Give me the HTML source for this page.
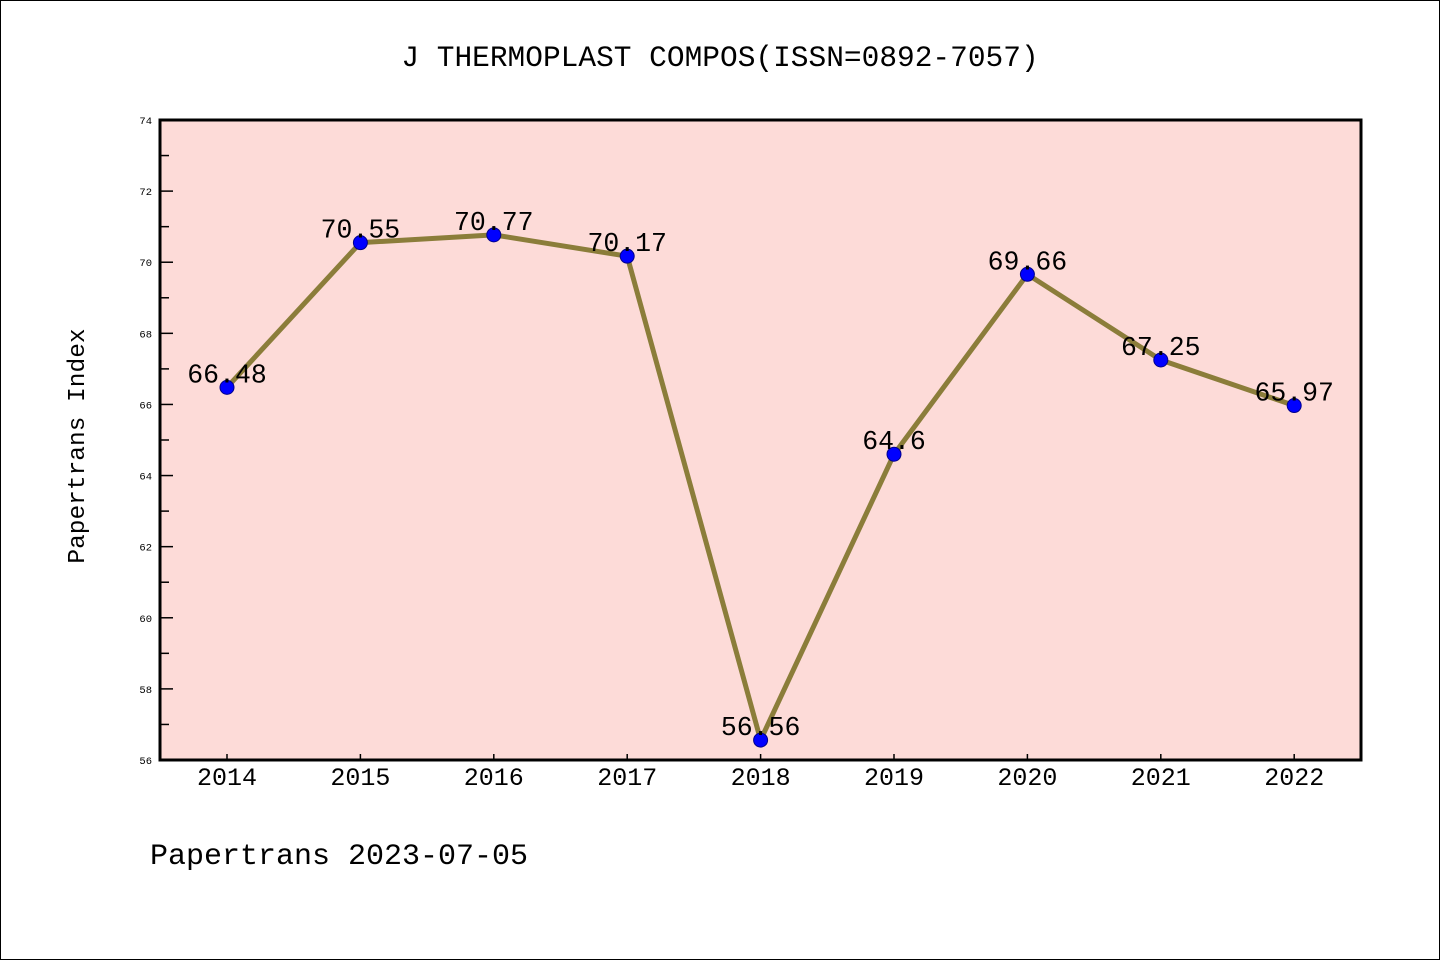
<!DOCTYPE html>
<html><head><meta charset="utf-8"><style>
body{margin:0;background:#fff}
svg{display:block}
text{font-family:"Liberation Mono","DejaVu Sans Mono",monospace}
</style></head><body>
<svg id="chart" width="1440" height="960" xmlns="http://www.w3.org/2000/svg">
<rect x="0.5" y="0.5" width="1439" height="959" fill="#fff" stroke="#000" stroke-width="1"/>
<text x="720" y="66" text-anchor="middle" font-size="29.5" fill="#000">J THERMOPLAST COMPOS(ISSN=0892-7057)</text>
<rect x="160" y="120" width="1201" height="640" fill="#fddbd8"/>
<g id="axes"></g>
<g id="series"></g>
<rect x="160" y="120" width="1201" height="640" fill="none" stroke="#000" stroke-width="3"/>
<text transform="translate(84,446) rotate(-90)" text-anchor="middle" font-size="24.5" fill="#000">Papertrans Index</text>
<text x="150" y="864" font-size="30" fill="#000">Papertrans 2023-07-05</text>
</svg>
<script>
const years=["2014","2015","2016","2017","2018","2019","2020","2021","2022"];
const values=[66.48,70.55,70.77,70.17,56.56,64.6,69.66,67.25,65.97];
const labels=["66.48","70.55","70.77","70.17","56.56","64.6","69.66","67.25","65.97"];
const yTicks=[56,58,60,62,64,66,68,70,72,74];
const NS="http://www.w3.org/2000/svg";
const x=i=>227+i*133.4;
const y=v=>760-(v-56)*(640/18);
function mk(t,a,p){const e=document.createElementNS(NS,t);for(const k in a)e.setAttribute(k,a[k]);p.appendChild(e);return e;}
const ax=document.getElementById('axes'),se=document.getElementById('series');
yTicks.forEach(v=>{
  const l=mk('line',{x1:160,x2:173,y1:y(v),y2:y(v),stroke:'#000','stroke-width':1.5},ax);
  
  
  const t=mk('text',{x:152,y:y(v)+4,'text-anchor':'end','font-size':10.5,fill:'#000'},ax);
  t.textContent=v;
  
  
  if(v<74){const m=mk('line',{x1:160,x2:169,y1:y(v+1),y2:y(v+1),stroke:'#000','stroke-width':1.5},ax);
  
  }
});
years.forEach((yr,i)=>{
  const l=mk('line',{x1:x(i),x2:x(i),y1:760,y2:754,stroke:'#000','stroke-width':1.5},ax);
  
  
  const t=mk('text',{x:x(i),y:785,'text-anchor':'middle','font-size':25,fill:'#000'},ax);
  t.textContent=yr;
  
  
});
const pl=mk('polyline',{points:values.map((v,i)=>x(i)+','+y(v)).join(' '),fill:'none',stroke:'#8b7d3a','stroke-width':5,'stroke-linejoin':'round'},se);


values.forEach((v,i)=>{
  const c=mk('circle',{cx:x(i),cy:y(v),r:7,fill:'#0000ff',stroke:'#00008b','stroke-width':1},se);
  
  
  const t=mk('text',{x:x(i),y:y(v)-5,'text-anchor':'middle','font-size':26.5,fill:'#000'},se);
  t.textContent=labels[i];
  
  
});
</script>
</body></html>
